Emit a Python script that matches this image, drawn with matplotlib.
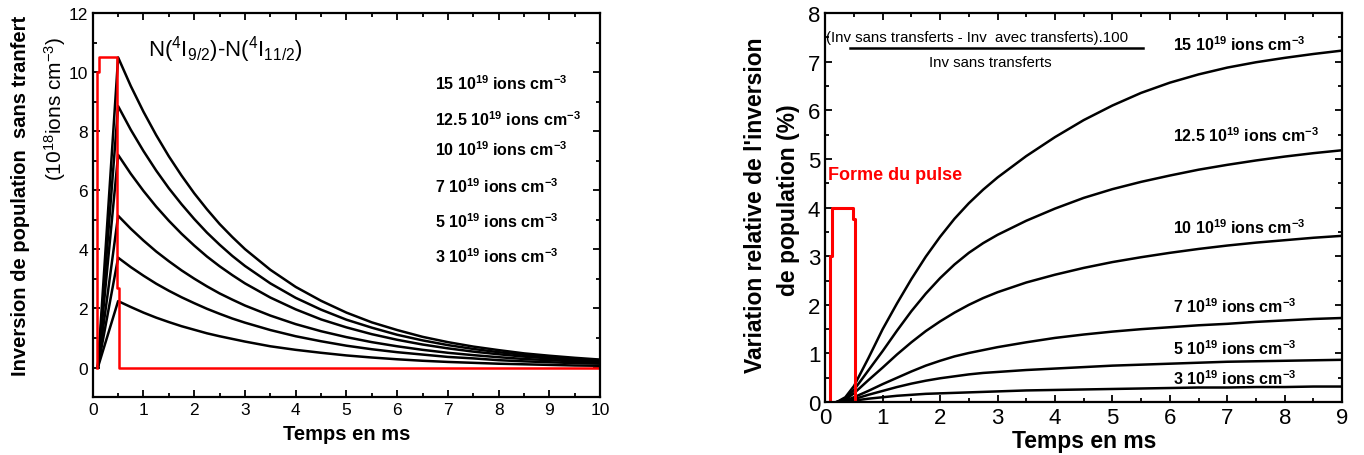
import numpy as np
import matplotlib
matplotlib.use("Agg")
import matplotlib.pyplot as plt
from matplotlib.ticker import MultipleLocator

plt.rcParams['font.family'] = ['Liberation Sans', 'DejaVu Sans']
plt.rcParams['mathtext.fontset'] = 'custom'
plt.rcParams['mathtext.rm'] = 'Liberation Sans'
plt.rcParams['mathtext.it'] = 'Liberation Sans'
plt.rcParams['mathtext.bf'] = 'Liberation Sans:bold'
plt.rcParams['mathtext.default'] = 'regular'

# ---- left panel : population inversion without transfer (10^18 ions/cm3)
t_left = [0.1, 0.5, 0.75, 1.0, 1.25, 1.5, 1.75, 2.0, 2.25, 2.5, 2.75, 3.0,
          3.5, 4.0, 4.5, 5.0, 5.5, 6.0, 6.5, 7.0, 7.5, 8.0, 8.5, 9.0, 9.5, 10.0]
inv_15 = [0, 10.5, 9.53, 8.66, 7.87, 7.15, 6.50, 5.90, 5.36, 4.86, 4.42, 4.01,
          3.31, 2.73, 2.26, 1.86, 1.53, 1.27, 1.04, 0.86, 0.71, 0.59, 0.48, 0.40, 0.33, 0.27]
inv_125 = [0, 8.85, 8.05, 7.33, 6.67, 6.07, 5.53, 5.03, 4.57, 4.16, 3.78, 3.44,
           2.85, 2.36, 1.96, 1.62, 1.35, 1.11, 0.92, 0.76, 0.63, 0.52, 0.43, 0.35, 0.29, 0.25]
inv_10 = [0, 7.2, 6.56, 5.98, 5.45, 4.97, 4.53, 4.13, 3.76, 3.43, 3.13, 2.85,
          2.37, 1.97, 1.63, 1.36, 1.13, 0.94, 0.78, 0.65, 0.54, 0.45, 0.37, 0.31, 0.26, 0.22]
inv_7 = [0, 5.14, 4.70, 4.30, 3.93, 3.60, 3.29, 3.01, 2.75, 2.51, 2.30, 2.10,
         1.76, 1.47, 1.23, 1.03, 0.86, 0.72, 0.60, 0.50, 0.42, 0.35, 0.29, 0.25, 0.21, 0.17]
inv_5 = [0, 3.72, 3.40, 3.11, 2.84, 2.60, 2.38, 2.18, 1.99, 1.82, 1.66, 1.52,
         1.27, 1.06, 0.89, 0.74, 0.62, 0.52, 0.44, 0.36, 0.31, 0.25, 0.21, 0.18, 0.15, 0.13]
inv_3 = [0, 2.25, 2.05, 1.86, 1.69, 1.54, 1.40, 1.28, 1.16, 1.06, 0.97, 0.88,
         0.72, 0.60, 0.50, 0.41, 0.34, 0.28, 0.23, 0.19, 0.16, 0.13, 0.11, 0.09, 0.07, 0.06]

pulse_left_t = [0.08, 0.08, 0.13, 0.13, 0.48, 0.48, 0.52, 0.52, 10.0]
pulse_left_y = [0, 10.0, 10.0, 10.5, 10.5, 2.7, 2.7, 0, 0]

labels_left = [r'15 10$^{19}$ ions cm$^{-3}$', r'12.5 10$^{19}$ ions cm$^{-3}$',
               r'10 10$^{19}$ ions cm$^{-3}$', r'7 10$^{19}$ ions cm$^{-3}$',
               r'5 10$^{19}$ ions cm$^{-3}$', r'3 10$^{19}$ ions cm$^{-3}$']
label_left_y = [9.65, 8.43, 7.4, 6.15, 4.96, 3.78]

# ---- right panel : relative variation of the inversion (%)
t_right = [0.2, 0.35, 0.5, 0.75, 1.0, 1.25, 1.5, 1.75, 2.0, 2.25, 2.5, 2.75,
           3.0, 3.5, 4.0, 4.5, 5.0, 5.5, 6.0, 6.5, 7.0, 7.5, 8.0, 8.5, 9.0]
var_15 = [0, 0.1, 0.33, 0.9, 1.5, 2.03, 2.53, 2.99, 3.40, 3.77, 4.09, 4.37,
          4.62, 5.06, 5.45, 5.8, 6.1, 6.36, 6.57, 6.74, 6.88, 6.99, 7.08, 7.16, 7.23]
var_125 = [0, 0.07, 0.25, 0.65, 1.05, 1.47, 1.87, 2.23, 2.55, 2.83, 3.07, 3.27,
           3.44, 3.73, 3.98, 4.2, 4.38, 4.53, 4.66, 4.78, 4.88, 4.97, 5.05, 5.12, 5.18]
var_10 = [0, 0.05, 0.18, 0.45, 0.71, 0.98, 1.23, 1.46, 1.66, 1.84, 2.0, 2.14,
          2.26, 2.46, 2.62, 2.76, 2.88, 2.98, 3.07, 3.15, 3.22, 3.28, 3.33, 3.38, 3.42]
var_7 = [0, 0.03, 0.1, 0.23, 0.37, 0.5, 0.63, 0.75, 0.85, 0.94, 1.01, 1.07,
         1.13, 1.23, 1.32, 1.39, 1.45, 1.5, 1.54, 1.58, 1.61, 1.65, 1.68, 1.71, 1.73]
var_5 = [0, 0.02, 0.06, 0.15, 0.23, 0.31, 0.38, 0.44, 0.49, 0.53, 0.57, 0.6,
         0.62, 0.66, 0.69, 0.72, 0.75, 0.77, 0.79, 0.81, 0.83, 0.84, 0.85, 0.86, 0.87]
var_3 = [0, 0.01, 0.03, 0.07, 0.1, 0.13, 0.15, 0.17, 0.18, 0.19, 0.2, 0.21,
         0.22, 0.24, 0.25, 0.26, 0.27, 0.28, 0.29, 0.3, 0.3, 0.31, 0.31, 0.32, 0.32]

pulse_right_t = [0.0, 0.09, 0.09, 0.12, 0.12, 0.48, 0.48, 0.52, 0.52, 9.0]
pulse_right_y = [0, 0, 3.0, 3.0, 4.0, 4.0, 3.76, 3.76, 0, 0]

labels_right = labels_left
label_right_y = [7.37, 5.51, 3.6, 1.98, 1.13, 0.51]

fig = plt.figure(figsize=(13.64, 4.56), dpi=100)
ax1 = fig.add_axes([0.068, 0.127, 0.372, 0.842])
ax2 = fig.add_axes([0.605, 0.116, 0.379, 0.853])


def style(ax, size):
    ax.tick_params(which='both', direction='in', top=True, right=True,
                   labelsize=size, width=1.3)
    ax.tick_params(which='major', length=5)
    ax.tick_params(which='minor', length=3)
    for s in ax.spines.values():
        s.set_linewidth(1.6)


# left
for y in [inv_15, inv_125, inv_10, inv_7, inv_5, inv_3]:
    ax1.plot(t_left, y, color='black', lw=1.8)
ax1.plot(pulse_left_t, pulse_left_y, color='red', lw=1.8)
ax1.set_xlim(0, 10)
ax1.set_ylim(-1, 12)
ax1.xaxis.set_major_locator(MultipleLocator(1))
ax1.xaxis.set_minor_locator(MultipleLocator(0.5))
ax1.yaxis.set_major_locator(MultipleLocator(2))
ax1.yaxis.set_minor_locator(MultipleLocator(1))
ax1.set_yticks([0, 2, 4, 6, 8, 10, 12])
style(ax1, 12.5)
ax1.set_xlabel('Temps en ms', fontsize=14.5, fontweight='bold', labelpad=5)
fig.text(0.015, 0.57, 'Inversion de population  sans tranfert', rotation=90,
         fontsize=14.5, fontweight='bold', ha='center', va='center')
fig.text(0.040, 0.76, r'(10$^{18}$ions cm$^{-3}$)', rotation=90,
         fontsize=15, ha='center', va='center')
ax1.text(1.08, 10.8, r'N($^4$I$_{9/2}$)-N($^4$I$_{11/2}$)', fontsize=16,
         va='center')
for lab, y in zip(labels_left, label_left_y):
    ax1.text(6.75, y, lab, fontsize=11.5, fontweight='bold', va='center')

# right
for y in [var_15, var_125, var_10, var_7, var_5, var_3]:
    ax2.plot(t_right, y, color='black', lw=1.8)
ax2.plot(pulse_right_t, pulse_right_y, color='red', lw=2.2)
ax2.set_xlim(0, 9)
ax2.set_ylim(0, 8)
ax2.xaxis.set_major_locator(MultipleLocator(1))
ax2.xaxis.set_minor_locator(MultipleLocator(0.5))
ax2.yaxis.set_major_locator(MultipleLocator(1))
ax2.yaxis.set_minor_locator(MultipleLocator(0.5))
style(ax2, 16)
ax2.set_xlabel('Temps en ms', fontsize=16.5, fontweight='bold', labelpad=1)
fig.text(0.554, 0.55, "Variation relative de l'inversion", rotation=90,
         fontsize=16.5, fontweight='bold', ha='center', va='center')
fig.text(0.578, 0.56, "de population (%)", rotation=90,
         fontsize=16.5, fontweight='bold', ha='center', va='center')
ax2.text(0.04, 4.69, 'Forme du pulse', color='red', fontsize=13,
         fontweight='bold', va='center')
ax2.text(0.02, 7.5, '(Inv sans transferts - Inv  avec transferts).100',
         fontsize=10.8, va='center')
ax2.plot([0.44, 5.53], [7.28, 7.28], color='black', lw=1.8)
ax2.text(1.8, 7.0, 'Inv sans transferts', fontsize=10.8, va='center')
for lab, y in zip(labels_right, label_right_y):
    ax2.text(6.05, y, lab, fontsize=11.5, fontweight='bold', va='center')

fig.savefig('out.png', dpi=100)
